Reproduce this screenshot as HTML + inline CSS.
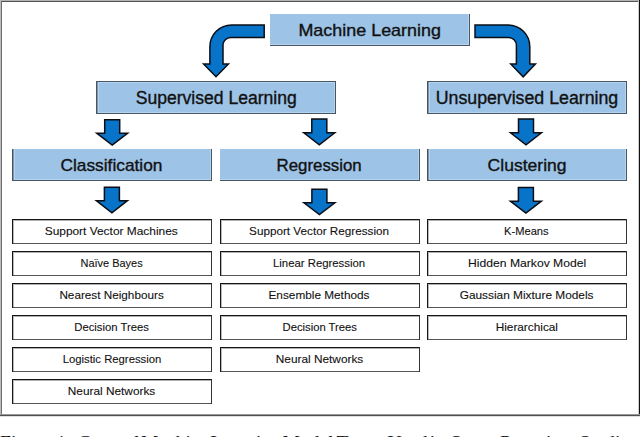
<!DOCTYPE html>
<html><head><meta charset="utf-8"><style>
html,body{margin:0;padding:0;background:#fff;width:640px;height:437px;overflow:hidden}
svg{display:block}

</style></head><body>
<svg width="640" height="437" viewBox="0 0 640 437">
<path fill="#0774CA" stroke="#0a0e14" stroke-width="1.5" stroke-linejoin="miter" stroke-miterlimit="10" d="M264.2,24.9 L231.6,24.9 A21.7,21.7 0 0 0 209.9,46.6 L209.9,64.1 L203.6,64.1 L216,76.8 L228.4,64.1 L223.0,64.1 L223.0,45.2 A7.8,7.8 0 0 1 230.8,37.4 L264.2,37.4 Z"/>
<path fill="#0774CA" stroke="#0a0e14" stroke-width="1.5" stroke-linejoin="miter" stroke-miterlimit="10" d="M475.0,24.9 L508.0,24.9 A21.8,21.8 0 0 1 529.8,46.7 L529.8,64.1 L535.4,64.1 L523.2,76.8 L510.8,64.1 L516.4,64.1 L516.4,45.2 A7.8,7.8 0 0 0 508.6,37.4 L475.0,37.4 Z"/>
<path fill="#0774CA" stroke="#0a0e14" stroke-width="1.5" stroke-linejoin="miter" stroke-miterlimit="10" d="M104.7,119.85 L119.7,119.85 L119.7,133.15 L127.65,133.15 L112.2,145.02449526781524 L96.75,133.15 L104.7,133.15 Z"/>
<path fill="#0774CA" stroke="#0a0e14" stroke-width="1.5" stroke-linejoin="miter" stroke-miterlimit="10" d="M311.8,119.05 L326.8,119.05 L326.8,132.75 L334.75,132.75 L319.3,144.72138402520255 L303.85,132.75 L311.8,132.75 Z"/>
<path fill="#0774CA" stroke="#0a0e14" stroke-width="1.5" stroke-linejoin="miter" stroke-miterlimit="10" d="M518.5,119.05 L533.5,119.05 L533.5,132.75 L541.45,132.75 L526.0,144.72138402520255 L510.55,132.75 L518.5,132.75 Z"/>
<path fill="#0774CA" stroke="#0a0e14" stroke-width="1.5" stroke-linejoin="miter" stroke-miterlimit="10" d="M104.4,187.25 L119.4,187.25 L119.4,200.65 L127.35000000000001,200.65 L111.9,212.71825863918335 L96.45,200.65 L104.4,200.65 Z"/>
<path fill="#0774CA" stroke="#0a0e14" stroke-width="1.5" stroke-linejoin="miter" stroke-miterlimit="10" d="M311.9,189.25 L326.9,189.25 L326.9,202.85 L334.84999999999997,202.85 L319.4,214.53067477868706 L303.95,202.85 L311.9,202.85 Z"/>
<path fill="#0774CA" stroke="#0a0e14" stroke-width="1.5" stroke-linejoin="miter" stroke-miterlimit="10" d="M518.4,187.55 L533.4,187.55 L533.4,201.15 L541.35,201.15 L525.9,213.12138402520256 L510.45,201.15 L518.4,201.15 Z"/>
<rect x="270" y="14" width="200" height="32" fill="#9DC3E6"/><rect x="468" y="14" width="1" height="32" fill="#B3D5F4"/><rect x="270" y="44" width="200" height="1" fill="#B3D5F4"/><rect x="469" y="14" width="1" height="32" fill="#4b5560"/><rect x="270" y="45" width="200" height="1" fill="#4b5560"/>
<rect x="96" y="81" width="240" height="33" fill="#9DC3E6"/><rect x="98" y="81" width="1" height="33" fill="#B3D5F4"/><rect x="334" y="81" width="1" height="33" fill="#B3D5F4"/><rect x="96" y="82" width="240" height="1" fill="#B3D5F4"/><rect x="96" y="112" width="240" height="1" fill="#B3D5F4"/><rect x="96" y="81" width="1" height="33" fill="#4b5560"/><rect x="97" y="81" width="1" height="33" fill="#7f93a8"/><rect x="335" y="81" width="1" height="33" fill="#4b5560"/><rect x="96" y="81" width="240" height="1" fill="#4b5560"/><rect x="96" y="113" width="240" height="1" fill="#4b5560"/>
<rect x="427" y="81" width="200" height="33" fill="#9DC3E6"/><rect x="429" y="81" width="1" height="33" fill="#B3D5F4"/><rect x="625" y="81" width="1" height="33" fill="#B3D5F4"/><rect x="427" y="82" width="200" height="1" fill="#B3D5F4"/><rect x="427" y="112" width="200" height="1" fill="#B3D5F4"/><rect x="427" y="81" width="1" height="33" fill="#4b5560"/><rect x="428" y="81" width="1" height="33" fill="#7f93a8"/><rect x="626" y="81" width="1" height="33" fill="#4b5560"/><rect x="427" y="81" width="200" height="1" fill="#4b5560"/><rect x="427" y="113" width="200" height="1" fill="#4b5560"/>
<rect x="12" y="149" width="200" height="32" fill="#9DC3E6"/><rect x="14" y="149" width="1" height="32" fill="#B3D5F4"/><rect x="210" y="149" width="1" height="32" fill="#B3D5F4"/><rect x="12" y="179" width="200" height="1" fill="#B3D5F4"/><rect x="12" y="149" width="1" height="32" fill="#4b5560"/><rect x="13" y="149" width="1" height="32" fill="#7f93a8"/><rect x="211" y="149" width="1" height="32" fill="#4b5560"/><rect x="12" y="180" width="200" height="1" fill="#4b5560"/>
<rect x="220" y="149" width="200" height="32" fill="#9DC3E6"/><rect x="418" y="149" width="1" height="32" fill="#B3D5F4"/><rect x="220" y="179" width="200" height="1" fill="#B3D5F4"/><rect x="419" y="149" width="1" height="32" fill="#4b5560"/><rect x="220" y="180" width="200" height="1" fill="#4b5560"/>
<rect x="427" y="149" width="200" height="32" fill="#9DC3E6"/><rect x="429" y="149" width="1" height="32" fill="#B3D5F4"/><rect x="625" y="149" width="1" height="32" fill="#B3D5F4"/><rect x="427" y="179" width="200" height="1" fill="#B3D5F4"/><rect x="427" y="149" width="1" height="32" fill="#4b5560"/><rect x="428" y="149" width="1" height="32" fill="#7f93a8"/><rect x="626" y="149" width="1" height="32" fill="#4b5560"/><rect x="427" y="180" width="200" height="1" fill="#4b5560"/>
<rect x="12" y="220" width="200" height="1" fill="#b0b0b0"/><rect x="13" y="219" width="1" height="24" fill="#b8b8b8"/><rect x="12" y="219" width="200" height="1" fill="#141414"/><rect x="12" y="243" width="200" height="1" fill="#555"/><rect x="12" y="219" width="1" height="25" fill="#161616"/><rect x="211" y="219" width="1" height="25" fill="#333"/>
<rect x="12" y="252" width="200" height="1" fill="#b0b0b0"/><rect x="13" y="251" width="1" height="24" fill="#b8b8b8"/><rect x="12" y="251" width="200" height="1" fill="#141414"/><rect x="12" y="275" width="200" height="1" fill="#555"/><rect x="12" y="251" width="1" height="25" fill="#161616"/><rect x="211" y="251" width="1" height="25" fill="#333"/>
<rect x="12" y="284" width="200" height="1" fill="#b0b0b0"/><rect x="13" y="283" width="1" height="24" fill="#b8b8b8"/><rect x="12" y="283" width="200" height="1" fill="#141414"/><rect x="12" y="307" width="200" height="1" fill="#555"/><rect x="12" y="283" width="1" height="25" fill="#161616"/><rect x="211" y="283" width="1" height="25" fill="#333"/>
<rect x="12" y="316" width="200" height="1" fill="#b0b0b0"/><rect x="13" y="315" width="1" height="24" fill="#b8b8b8"/><rect x="12" y="315" width="200" height="1" fill="#141414"/><rect x="12" y="339" width="200" height="1" fill="#555"/><rect x="12" y="315" width="1" height="25" fill="#161616"/><rect x="211" y="315" width="1" height="25" fill="#333"/>
<rect x="12" y="348" width="200" height="1" fill="#b0b0b0"/><rect x="13" y="347" width="1" height="24" fill="#b8b8b8"/><rect x="12" y="347" width="200" height="1" fill="#141414"/><rect x="12" y="371" width="200" height="1" fill="#555"/><rect x="12" y="347" width="1" height="25" fill="#161616"/><rect x="211" y="347" width="1" height="25" fill="#333"/>
<rect x="12" y="380" width="200" height="1" fill="#b0b0b0"/><rect x="13" y="379" width="1" height="24" fill="#b8b8b8"/><rect x="12" y="379" width="200" height="1" fill="#141414"/><rect x="12" y="403" width="200" height="1" fill="#555"/><rect x="12" y="379" width="1" height="25" fill="#161616"/><rect x="211" y="379" width="1" height="25" fill="#333"/>
<rect x="220" y="220" width="200" height="1" fill="#b0b0b0"/><rect x="221" y="219" width="1" height="24" fill="#b8b8b8"/><rect x="220" y="219" width="200" height="1" fill="#141414"/><rect x="220" y="243" width="200" height="1" fill="#555"/><rect x="220" y="219" width="1" height="25" fill="#161616"/><rect x="419" y="219" width="1" height="25" fill="#333"/>
<rect x="220" y="252" width="200" height="1" fill="#b0b0b0"/><rect x="221" y="251" width="1" height="24" fill="#b8b8b8"/><rect x="220" y="251" width="200" height="1" fill="#141414"/><rect x="220" y="275" width="200" height="1" fill="#555"/><rect x="220" y="251" width="1" height="25" fill="#161616"/><rect x="419" y="251" width="1" height="25" fill="#333"/>
<rect x="220" y="284" width="200" height="1" fill="#b0b0b0"/><rect x="221" y="283" width="1" height="24" fill="#b8b8b8"/><rect x="220" y="283" width="200" height="1" fill="#141414"/><rect x="220" y="307" width="200" height="1" fill="#555"/><rect x="220" y="283" width="1" height="25" fill="#161616"/><rect x="419" y="283" width="1" height="25" fill="#333"/>
<rect x="220" y="316" width="200" height="1" fill="#b0b0b0"/><rect x="221" y="315" width="1" height="24" fill="#b8b8b8"/><rect x="220" y="315" width="200" height="1" fill="#141414"/><rect x="220" y="339" width="200" height="1" fill="#555"/><rect x="220" y="315" width="1" height="25" fill="#161616"/><rect x="419" y="315" width="1" height="25" fill="#333"/>
<rect x="220" y="348" width="200" height="1" fill="#b0b0b0"/><rect x="221" y="347" width="1" height="24" fill="#b8b8b8"/><rect x="220" y="347" width="200" height="1" fill="#141414"/><rect x="220" y="371" width="200" height="1" fill="#555"/><rect x="220" y="347" width="1" height="25" fill="#161616"/><rect x="419" y="347" width="1" height="25" fill="#333"/>
<rect x="427" y="220" width="200" height="1" fill="#b0b0b0"/><rect x="428" y="219" width="1" height="24" fill="#b8b8b8"/><rect x="427" y="219" width="200" height="1" fill="#141414"/><rect x="427" y="243" width="200" height="1" fill="#555"/><rect x="427" y="219" width="1" height="25" fill="#161616"/><rect x="626" y="219" width="1" height="25" fill="#333"/>
<rect x="427" y="252" width="200" height="1" fill="#b0b0b0"/><rect x="428" y="251" width="1" height="24" fill="#b8b8b8"/><rect x="427" y="251" width="200" height="1" fill="#141414"/><rect x="427" y="275" width="200" height="1" fill="#555"/><rect x="427" y="251" width="1" height="25" fill="#161616"/><rect x="626" y="251" width="1" height="25" fill="#333"/>
<rect x="427" y="284" width="200" height="1" fill="#b0b0b0"/><rect x="428" y="283" width="1" height="24" fill="#b8b8b8"/><rect x="427" y="283" width="200" height="1" fill="#141414"/><rect x="427" y="307" width="200" height="1" fill="#555"/><rect x="427" y="283" width="1" height="25" fill="#161616"/><rect x="626" y="283" width="1" height="25" fill="#333"/>
<rect x="427" y="316" width="200" height="1" fill="#b0b0b0"/><rect x="428" y="315" width="1" height="24" fill="#b8b8b8"/><rect x="427" y="315" width="200" height="1" fill="#141414"/><rect x="427" y="339" width="200" height="1" fill="#555"/><rect x="427" y="315" width="1" height="25" fill="#161616"/><rect x="626" y="315" width="1" height="25" fill="#333"/>
<rect x="0" y="0" width="640" height="1" fill="#b2b2b2"/><rect x="1" y="1" width="639" height="1" fill="#555"/><rect x="0" y="0" width="1" height="416" fill="#bbb"/><rect x="1" y="1" width="1" height="415" fill="#6e6e6e"/><rect x="638" y="1" width="1" height="414" fill="#d0d0d0"/><rect x="639" y="0" width="1" height="416" fill="#111"/><rect x="0" y="414" width="640" height="1" fill="#999"/><rect x="0" y="415" width="640" height="1" fill="#505050"/><rect x="0" y="416" width="640" height="1" fill="#e0e0e0"/>
<text y="448.6" font-size="19.6" font-family="Liberation Serif" fill="#111"><tspan x="0.0">Figure</tspan><tspan x="56.3">1:</tspan><tspan x="77.6">General</tspan><tspan x="141.0">Machine</tspan><tspan x="210.3">Learning</tspan><tspan x="282.5">Model</tspan><tspan x="336.6">Tree</tspan><tspan x="387.5">Used</tspan><tspan x="429.7">in</tspan><tspan x="450.5">Smart</tspan><tspan x="500.2">Pumping</tspan><tspan x="579.2">Studies</tspan></text>
<text x="298.45" y="36.3" font-size="17" font-family="Liberation Sans" fill="#111" stroke="#111" stroke-width="0.35" textLength="142.53" lengthAdjust="spacingAndGlyphs">Machine Learning</text>
<text x="135.7" y="104.4" font-size="17.5" font-family="Liberation Sans" fill="#111" stroke="#111" stroke-width="0.35" textLength="161.03" lengthAdjust="spacingAndGlyphs">Supervised Learning</text>
<text x="435.69" y="103.8" font-size="17.5" font-family="Liberation Sans" fill="#111" stroke="#111" stroke-width="0.35" textLength="182.56" lengthAdjust="spacingAndGlyphs">Unsupervised Learning</text>
<text x="60.5" y="170.6" font-size="17" font-family="Liberation Sans" fill="#111" stroke="#111" stroke-width="0.35" textLength="101.96" lengthAdjust="spacingAndGlyphs">Classification</text>
<text x="276.61" y="170.6" font-size="17" font-family="Liberation Sans" fill="#111" stroke="#111" stroke-width="0.35" textLength="85.04" lengthAdjust="spacingAndGlyphs">Regression</text>
<text x="487.6" y="170.6" font-size="17" font-family="Liberation Sans" fill="#111" stroke="#111" stroke-width="0.35" textLength="78.97" lengthAdjust="spacingAndGlyphs">Clustering</text>
<text x="44.7" y="235.0" font-size="11" font-family="Liberation Sans" fill="#111" stroke="#111" stroke-width="0.1" textLength="133.06" lengthAdjust="spacingAndGlyphs">Support Vector Machines</text>
<text x="80.5" y="267.0" font-size="11" font-family="Liberation Sans" fill="#111" stroke="#111" stroke-width="0.1" textLength="62.2" lengthAdjust="spacingAndGlyphs">Naïve Bayes</text>
<text x="59.4" y="299.0" font-size="11" font-family="Liberation Sans" fill="#111" stroke="#111" stroke-width="0.1" textLength="104.37" lengthAdjust="spacingAndGlyphs">Nearest Neighbours</text>
<text x="74.3" y="331.0" font-size="11" font-family="Liberation Sans" fill="#111" stroke="#111" stroke-width="0.1" textLength="74.59" lengthAdjust="spacingAndGlyphs">Decision Trees</text>
<text x="62.7" y="363.0" font-size="11" font-family="Liberation Sans" fill="#111" stroke="#111" stroke-width="0.1" textLength="98.62" lengthAdjust="spacingAndGlyphs">Logistic Regression</text>
<text x="67.8" y="395.0" font-size="11" font-family="Liberation Sans" fill="#111" stroke="#111" stroke-width="0.1" textLength="87.46" lengthAdjust="spacingAndGlyphs">Neural Networks</text>
<text x="249.1" y="235.0" font-size="11" font-family="Liberation Sans" fill="#111" stroke="#111" stroke-width="0.1" textLength="139.93" lengthAdjust="spacingAndGlyphs">Support Vector Regression</text>
<text x="273.0" y="267.0" font-size="11" font-family="Liberation Sans" fill="#111" stroke="#111" stroke-width="0.1" textLength="92.12" lengthAdjust="spacingAndGlyphs">Linear Regression</text>
<text x="268.5" y="299.0" font-size="11" font-family="Liberation Sans" fill="#111" stroke="#111" stroke-width="0.1" textLength="100.96" lengthAdjust="spacingAndGlyphs">Ensemble Methods</text>
<text x="282.5" y="331.0" font-size="11" font-family="Liberation Sans" fill="#111" stroke="#111" stroke-width="0.1" textLength="74.49" lengthAdjust="spacingAndGlyphs">Decision Trees</text>
<text x="275.8" y="363.0" font-size="11" font-family="Liberation Sans" fill="#111" stroke="#111" stroke-width="0.1" textLength="87.46" lengthAdjust="spacingAndGlyphs">Neural Networks</text>
<text x="504.1" y="235.0" font-size="11" font-family="Liberation Sans" fill="#111" stroke="#111" stroke-width="0.1" textLength="44.49" lengthAdjust="spacingAndGlyphs">K-Means</text>
<text x="468.1" y="267.0" font-size="11" font-family="Liberation Sans" fill="#111" stroke="#111" stroke-width="0.1" textLength="118.09" lengthAdjust="spacingAndGlyphs">Hidden Markov Model</text>
<text x="459.7" y="299.0" font-size="11" font-family="Liberation Sans" fill="#111" stroke="#111" stroke-width="0.1" textLength="133.86" lengthAdjust="spacingAndGlyphs">Gaussian Mixture Models</text>
<text x="495.7" y="331.0" font-size="11" font-family="Liberation Sans" fill="#111" stroke="#111" stroke-width="0.1" textLength="62.28" lengthAdjust="spacingAndGlyphs">Hierarchical</text>
</svg>
</body></html>
